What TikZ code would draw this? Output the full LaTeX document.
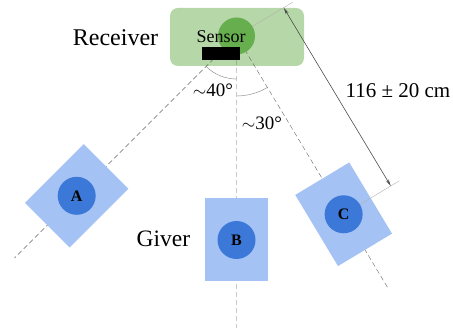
\documentclass[tikz,border=0pt]{standalone}
\usepackage{fontspec}
\setmainfont{Liberation Serif}
\usetikzlibrary{calc,arrows.meta}
\definecolor{recgreen}{HTML}{B6D7A8}
\definecolor{sensgreen}{HTML}{66AE4E}
\definecolor{boxblue}{HTML}{A4C2F4}
\definecolor{dotblue}{HTML}{3C78D8}
\tikzset{
  giverbox/.style={fill=boxblue,minimum width=63pt,minimum height=83pt,inner sep=0pt},
  giverdot/.style={circle,fill=dotblue,minimum size=38pt,inner sep=0pt,font=\fontsize{16}{16}\selectfont\bfseries},
  ray/.style={black!60,thin,dash pattern=on 5pt off 3pt},
  extline/.style={gray!60,thin},
  lbl/.style={anchor=base,inner sep=0pt}
}
\begin{document}
\begin{tikzpicture}[line join=round,x=1pt,y=1pt]
\useasboundingbox (0,0) rectangle (453,328);
\coordinate (S) at (236.5,292);
\path (S) ++(-135:226) coordinate (pA) (S) ++(-90:204) coordinate (pB) (S) ++(-59:208) coordinate (pC);
% receiver
\fill[recgreen,rounded corners=8pt] (170,262) rectangle (304,320);
% rays and angles
\draw[ray] (S)--++(-135:314) (S)--++(-90:292) (S)--++(-59:296);
\draw[gray,thin] ($(S)+(-135:43)$) arc[start angle=-135,end angle=-90,radius=43];
\draw[gray,thin] ($(S)+(-90:60)$) arc[start angle=-90,end angle=-59,radius=60];
\draw[extline] (S)--($(S)+(31:66)$);
% givers
\node[giverbox,rotate=-45] (boxA) at (pA) {};
\node[giverbox] (boxB) at (pB) {};
\node[giverbox,rotate=31] (boxC) at (pC) {};
\draw[extline] (pC)--($(pC)+(31:65)$);
\node[circle,fill=sensgreen,minimum size=37pt,inner sep=0pt] (sensor) at (S) {};
\fill[black] (202,268) rectangle (240,281);
\node[giverdot] (A) at (pA) {A};
\node[giverdot] (B) at (pB) {B};
\node[giverdot] (C) at (pC) {C};
\draw[{Stealth[length=7pt,width=3pt]}-{Stealth[length=7pt,width=3pt]},black!70,semithick] ($(S)+(31:55)$)--($(pC)+(31:55)$);
% labels
\node[lbl,font=\fontsize{18}{18}\selectfont] (senslbl) at (221,285) {Sensor};
\node[lbl,font=\fontsize{24}{24}\selectfont] (reclbl) at (115.5,282) {Receiver};
\node[lbl,font=\fontsize{23.5}{24}\selectfont] (givlbl) at (163.5,81) {Giver};
\node[lbl,font=\fontsize{19}{19}\selectfont] (ang40) at (213,231) {$\sim$40°};
\node[lbl,font=\fontsize{19}{19}\selectfont] (ang30) at (262,198) {$\sim$30°};
\node[lbl,font=\fontsize{21}{21}\selectfont] (dist) at (398,230) {116 ± 20 cm};
\end{tikzpicture}
\end{document}
